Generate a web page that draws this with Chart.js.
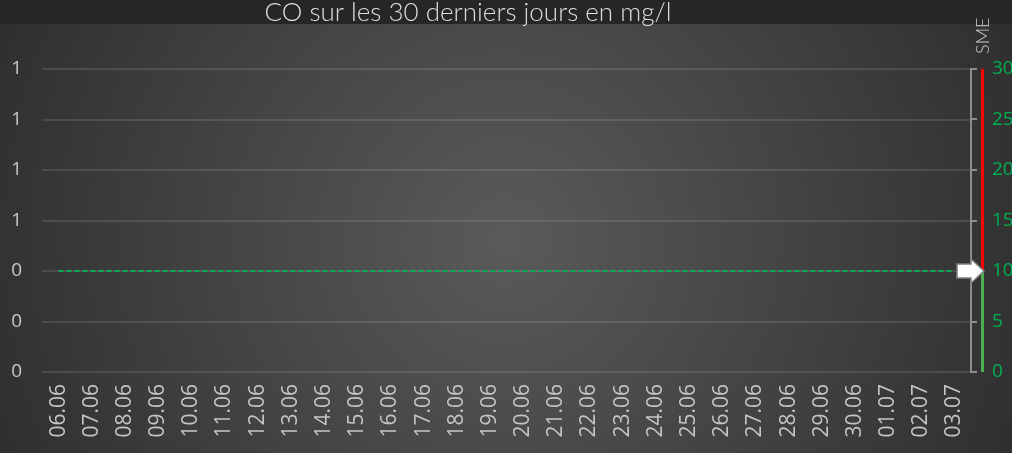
<!DOCTYPE html>
<html>
<head>
<meta charset="utf-8">
<script src="https://cdn.jsdelivr.net/npm/chart.js@4/dist/chart.umd.min.js"></script>
<style>
  html, body { margin: 0; padding: 0; background: #262626; }
  #wrap { width: 1012px; height: 453px; }
</style>
</head>
<body>
<div id="wrap"><canvas id="myChart" width="1012" height="453"></canvas></div>
<script>
// dates (x axis)
const labels = ["06.06","07.06","08.06","09.06","10.06","11.06","12.06","13.06","14.06","15.06",
  "16.06","17.06","18.06","19.06","20.06","21.06","22.06","23.06","24.06","25.06",
  "26.06","27.06","28.06","29.06","30.06","01.07","02.07","03.07"];
// CO values in mg/l
const co = [0.4,0.4,0.4,0.4,0.4,0.4,0.4,0.4,0.4,0.4,
  0.4,0.4,0.4,0.4,0.4,0.4,0.4,0.4,0.4,0.4,
  0.4,0.4,0.4,0.4,0.4,0.4,0.4,0.4];
// left axis range
const leftMin = 0, leftMax = 1.2, leftStep = 0.2;
// SME scale (right)
const smeMin = 0, smeMax = 30, smeStep = 5;
const smeSeuil = 10;

const titre = "CO sur les 30 derniers jours en mg/l";
const police = '"Open Sans", "Noto Sans", sans-serif';

const decor = {
  id: 'decor',
  beforeDraw(chart) {
    const ctx = chart.ctx;
    const w = chart.width, h = chart.height;
    ctx.save();
    ctx.fillStyle = '#262626';
    ctx.fillRect(0, 0, w, h);
    const g = ctx.createRadialGradient(506, 240, 0, 506, 240, 600);
    g.addColorStop(0, '#5a5a5a');
    g.addColorStop(1, '#2b2b2b');
    ctx.fillStyle = g;
    ctx.fillRect(0, 24, w, h - 24);
    ctx.restore();
  },
  afterDraw(chart) {
    const ctx = chart.ctx;
    const s = chart.scales.y2;
    const area = chart.chartArea;
    const x = area.right + 10;
    const yTop = s.getPixelForValue(smeMax);
    const ySeuil = s.getPixelForValue(smeSeuil);
    const yBas = s.getPixelForValue(smeMin);
    ctx.save();
    // colored SME bar
    ctx.fillStyle = '#ff0000';
    ctx.fillRect(x, yTop, 3, ySeuil - yTop);
    ctx.fillStyle = '#4cb050';
    ctx.fillRect(x, ySeuil, 3, yBas - ySeuil);
    // arrow
    const tip = x + 3;
    ctx.beginPath();
    ctx.moveTo(tip, ySeuil);
    ctx.lineTo(tip - 13, ySeuil - 12);
    ctx.lineTo(tip - 13, ySeuil - 7);
    ctx.lineTo(tip - 27, ySeuil - 7);
    ctx.lineTo(tip - 27, ySeuil + 7);
    ctx.lineTo(tip - 13, ySeuil + 7);
    ctx.lineTo(tip - 13, ySeuil + 12);
    ctx.closePath();
    ctx.fillStyle = '#ffffff';
    ctx.fill();
    ctx.strokeStyle = '#808080';
    ctx.lineWidth = 1.5;
    ctx.stroke();
    // SME label
    ctx.translate(x + 8, yTop - 15);
    ctx.rotate(-Math.PI / 2);
    ctx.fillStyle = '#c8c8c8';
    ctx.font = '300 18px Lato, ' + police;
    ctx.textAlign = 'left';
    ctx.textBaseline = 'alphabetic';
    ctx.fillText('SME', 0, 0);
    ctx.restore();
    // title
    ctx.save();
    ctx.fillStyle = '#dedede';
    ctx.font = '300 26px Lato, ' + police;
    ctx.textAlign = 'center';
    ctx.textBaseline = 'alphabetic';
    ctx.fillText(titre, 468, 21);
    ctx.restore();
  }
};

new Chart("myChart", {
  type: "line",
  data: {
    labels: labels,
    datasets: [{
      data: co,
      yAxisID: 'y',
      borderColor: '#00b050',
      borderWidth: 2,
      borderDash: [5, 3],
      pointRadius: 0,
      fill: false,
      tension: 0
    }]
  },
  options: {
    responsive: false,
    animation: false,
    layout: { padding: { top: 69, left: 0, right: 0, bottom: 0 } },
    plugins: { legend: { display: false }, title: { display: false }, tooltip: { enabled: false } },
    scales: {
      x: {
        offset: true,
        grid: { display: false, drawTicks: false },
        border: { display: false },
        ticks: {
          minRotation: 90, maxRotation: 90, autoSkip: false, padding: 12,
          color: '#c4c4c4', font: { family: police, size: 21 }
        },
        afterFit(scale) { scale.height = 81; }
      },
      y: {
        position: 'left',
        min: leftMin, max: leftMax,
        grid: { color: 'rgba(255,255,255,0.11)', lineWidth: 2, drawTicks: false },
        border: { display: false },
        ticks: {
          stepSize: leftStep, padding: 20,
          color: '#c8c8c8', font: { family: police, size: 19 },
          callback: v => Math.round(v)
        },
        afterFit(scale) { scale.width = 42; }
      },
      y2: {
        position: 'right',
        min: smeMin, max: smeMax,
        grid: { drawOnChartArea: false, drawTicks: true, tickLength: 6, color: '#8c8c8c', lineWidth: 2 },
        border: { display: true, color: '#8c8c8c', width: 2 },
        ticks: {
          stepSize: smeStep, padding: 15,
          color: '#00b050', font: { family: police, size: 19 }
        },
        afterFit(scale) { scale.width = 41; }
      }
    }
  },
  plugins: [decor]
});
</script>
</body>
</html>
